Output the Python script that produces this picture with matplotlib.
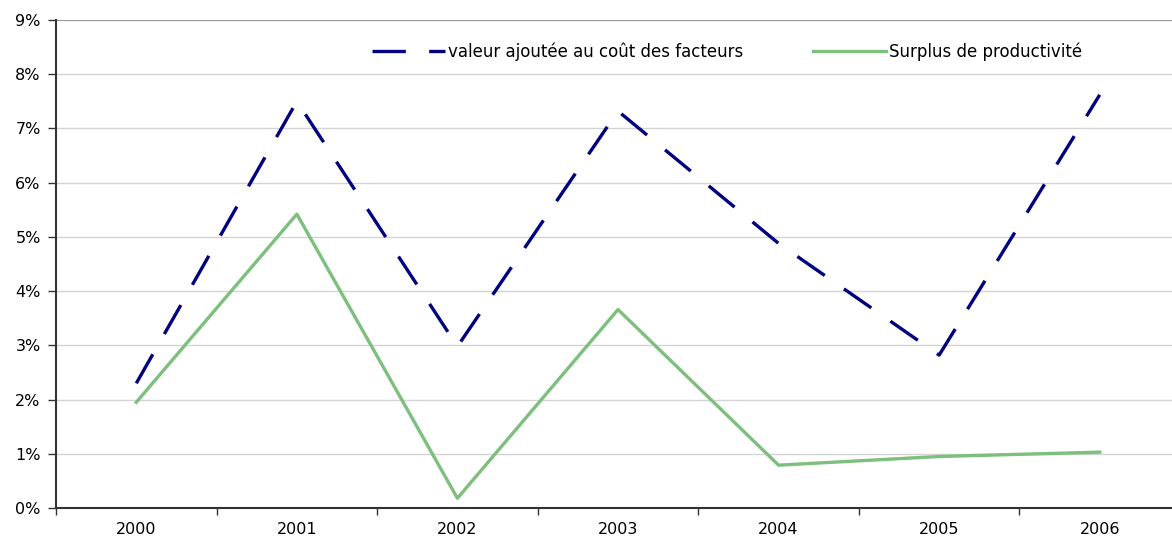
import matplotlib
matplotlib.use("Agg")
import matplotlib.pyplot as plt
from matplotlib.ticker import FixedLocator, NullFormatter

years = ["2000", "2001", "2002", "2003", "2004", "2005", "2006"]
valeur_ajoutee = [2.3, 7.5, 2.98, 7.32, 4.88, 2.82, 7.62]
surplus = [1.95, 5.42, 0.18, 3.66, 0.79, 0.95, 1.03]
y_ticks = [0, 1, 2, 3, 4, 5, 6, 7, 8, 9]
y_labels = [f"{v}%" for v in y_ticks]

plt.rcParams['font.family'] = ['DejaVu Sans']
fig = plt.figure(figsize=(11.72, 5.4), dpi=100)
W, H = 1172, 540
left, right, top, bottom = 56, 1180, 20, 508
ax = fig.add_axes([left / W, 1 - bottom / H, (right - left) / W, (bottom - top) / H])

x = list(range(len(years)))
navy = "#000080"
green = "#7dbf7d"
ax.plot(x, valeur_ajoutee, color=navy, lw=2.4, dashes=(10, 7), solid_capstyle='butt',
        dash_capstyle='butt', label="valeur ajoutée au coût des facteurs", zorder=3)
ax.plot(x, surplus, color=green, lw=2.4, label="Surplus de productivité", zorder=3)

ax.set_xlim(-0.5, len(years) - 0.5)
ax.set_ylim(0, 9)
ax.set_yticks(y_ticks)
ax.set_yticklabels(y_labels, fontsize=11.5)
ax.xaxis.set_major_locator(FixedLocator([i - 0.5 for i in range(len(years) + 1)]))
ax.xaxis.set_major_formatter(NullFormatter())
ax.xaxis.set_minor_locator(FixedLocator(x))
ax.set_xticklabels(years, minor=True, fontsize=11.5)
ax.tick_params(axis='x', which='minor', length=0, pad=10)
ax.tick_params(axis='x', which='major', length=5, width=1, color="#333333", direction='out')
ax.tick_params(axis='y', length=6, width=1, color="#333333", pad=5)

ax.grid(axis='y', color="#d4d4d4", lw=1)
ax.set_axisbelow(True)
for s in ['top', 'right']:
    ax.spines[s].set_visible(False)
for s in ['left', 'bottom']:
    ax.spines[s].set_color("#333333")
    ax.spines[s].set_linewidth(1.5)
ax.axhline(9, color="#999999", lw=1.5, zorder=1)

leg = ax.legend(loc='center left', bbox_to_anchor=((372 - left) / (right - left), (bottom - 52) / (bottom - top)),
                ncol=2, frameon=False, fontsize=12, handlelength=4.4, handletextpad=0.15,
                columnspacing=4.2, borderaxespad=0, borderpad=0)

fig.savefig("out.png", dpi=100)
